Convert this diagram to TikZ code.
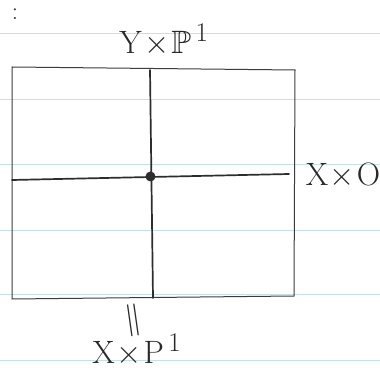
\documentclass[tikz,border=0pt]{standalone}
\usepackage{graphicx}
\usepackage{amssymb}
\newcommand{\hwlabel}[1]{\scalebox{1.3}{\fontsize{24.88}{27}\selectfont #1}}
\begin{document}
\begin{tikzpicture}[x=1pt,y=-1pt,
  paper/.style={draw={rgb,255:red,196;green,226;blue,224},line width=0.8pt},
  frame/.style={draw={rgb,255:red,60;green,60;blue,60},line width=1pt,line cap=round},
  axis/.style={draw={rgb,255:red,45;green,45;blue,45},line width=1.7pt,line cap=round},
  lbl/.style={inner sep=0pt,text={rgb,255:red,40;green,40;blue,40}}]
\useasboundingbox (0,0) rectangle (380,371);
\fill[white] (0,0) rectangle (380,371);
% lined paper
\foreach \yy in {33,99,164,230,294,360}
  \draw[paper] (0,\yy) -- (380,\yy);
% frame corners
\coordinate (tl) at (12,67);
\coordinate (tr) at (295,70);
\coordinate (br) at (294,296);
\coordinate (bl) at (12,299);
\draw[frame] (tl) -- (tr) -- (br) -- (bl) -- cycle;
% axes
\coordinate (vt) at (150,70);
\coordinate (vb) at (153,298);
\coordinate (hl) at (12,180);
\coordinate (hr) at (289,174);
\draw[axis] (vt) -- (vb);
\draw[axis] (hl) -- (hr);
\node[circle,fill={rgb,255:red,45;green,45;blue,45},inner sep=0pt,minimum size=10pt] (pt) at (150.5,176.5) {};
% labels
\node[lbl] (top) at (164,40) {\hwlabel{$\mathrm{Y}\!\times\!\mathbb{P}^{\,1}$}};
\node[lbl] (right) at (343,176) {\hwlabel{$\mathrm{X}\!\times\!\mathrm{O}$}};
\node[lbl,rotate=8] (eq) at (133,320) {\hwlabel{$\|$}};
\node[lbl] (bot) at (137,350) {\hwlabel{$\mathrm{X}\!\times\!\mathrm{P}^{\,1}$}};
\node[lbl] (colon) at (15,14) {\fontsize{28}{30}\selectfont$\colon$};
\end{tikzpicture}
\end{document}
